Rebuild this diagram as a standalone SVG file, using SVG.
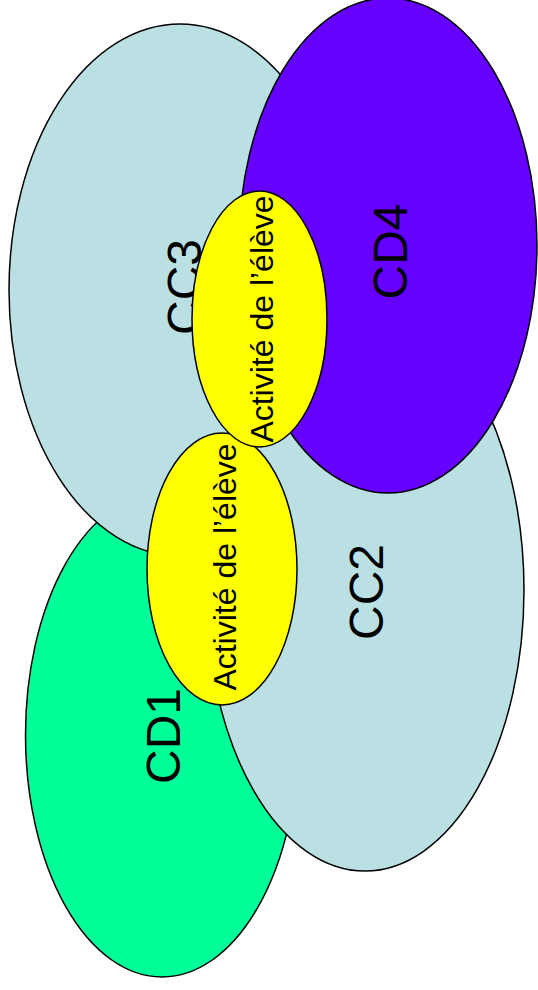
<svg xmlns="http://www.w3.org/2000/svg" width="538" height="990" viewBox="0 0 538 990">
<style>
.sh{stroke:#000;stroke-width:1.5}
.cc{fill:#BBE0E3}
.cd1{fill:#00FF99}
.cd4{fill:#6600FF}
.act{fill:#FFFF00}
text{font-family:"Liberation Sans",Arial,sans-serif;fill:#000;text-anchor:middle}
.big{font-size:48px}
.small{font-size:32px}
</style>
<rect width="538" height="990" fill="#fff"/>
<g id="CD1">
<ellipse class="sh cd1" cx="162" cy="735" rx="136.5" ry="242"/>
<text class="big" transform="translate(180,736) rotate(-90)">CD1</text>
</g>
<g id="CC3">
<ellipse class="sh cc" cx="180" cy="290" rx="171" ry="266"/>
<text class="big" transform="translate(201,287) rotate(-90)">CC3</text>
</g>
<g id="CC2">
<ellipse class="sh cc" cx="365" cy="590" rx="159" ry="281"/>
<text class="big" transform="translate(383,592) rotate(-90)">CC2</text>
</g>
<g id="CD4">
<ellipse class="sh cd4" cx="388" cy="245.5" rx="149" ry="247.5"/>
<text class="big" transform="translate(407,251.5) rotate(-90)">CD4</text>
</g>
<g id="activite2">
<ellipse class="sh act" cx="222" cy="569" rx="75" ry="136"/>
<text class="small" transform="translate(235.5,567) rotate(-90)">Activité de l’élève</text>
</g>
<g id="activite1">
<ellipse class="sh act" cx="259.5" cy="319" rx="67.5" ry="128"/>
<text class="small" transform="translate(273,319) rotate(-90)">Activité de l’élève</text>
</g>
<g id="connectors"></g>
</svg>
